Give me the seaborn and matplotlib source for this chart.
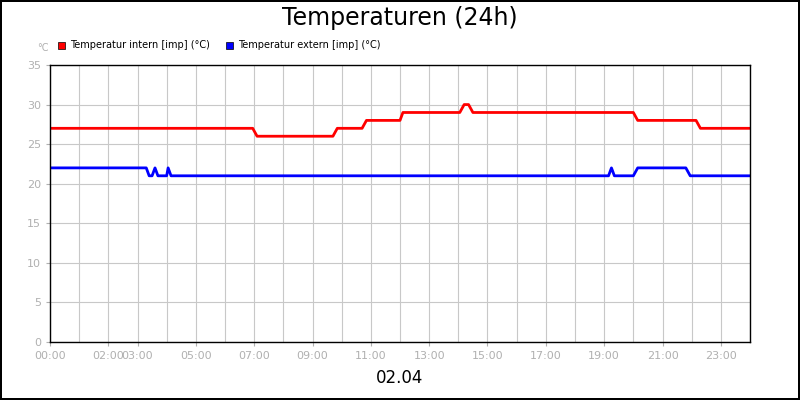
import matplotlib
matplotlib.use("Agg")
import matplotlib.pyplot as plt
import seaborn as sns
import pandas as pd

# hours and values (step-like with short transitions)
t_int = [0, 6.95, 7.1, 9.7, 9.85, 10.7, 10.85, 12.0, 12.1, 14.05, 14.2, 14.35, 14.5, 20.0, 20.15, 22.15, 22.3, 24]
v_int = [27, 27, 26, 26, 27, 27, 28, 28, 29, 29, 30, 30, 29, 29, 28, 28, 27, 27]
t_ext = [0, 3.3, 3.4, 3.5, 3.6, 3.7, 4.0, 4.05, 4.15, 19.15, 19.25, 19.35, 20.0, 20.15, 21.8, 21.95, 24]
v_ext = [22, 22, 21, 21, 22, 21, 21, 22, 21, 21, 22, 21, 21, 22, 22, 21, 21]
tick_pos = [0, 2, 3, 5, 7, 9, 11, 13, 15, 17, 19, 21, 23]
tick_lbl = ["00:00", "02:00", "03:00", "05:00", "07:00", "09:00", "11:00", "13:00", "15:00", "17:00", "19:00", "21:00", "23:00"]
lbl_int = "Temperatur intern [imp] (°C)"
lbl_ext = "Temperatur extern [imp] (°C)"

sns.set_style("white")
plt.rcParams['font.family'] = ['DejaVu Sans']
fig = plt.figure(figsize=(8, 4), dpi=100)
fig.patch.set_edgecolor("black"); fig.patch.set_linewidth(1.5)
ax = fig.add_axes([50/800, 58/400, 700/800, 277/400])
df1 = pd.DataFrame({"t": t_int, "v": v_int})
df2 = pd.DataFrame({"t": t_ext, "v": v_ext})
sns.lineplot(data=df1, x="t", y="v", color="#ff0000", lw=2, ax=ax)
sns.lineplot(data=df2, x="t", y="v", color="#0000ff", lw=2, ax=ax)
ax.set_xlim(0, 24); ax.set_ylim(0, 35)
ax.set_xticks(range(25), minor=True)
ax.set_xticks(tick_pos); ax.set_xticklabels(tick_lbl)
ax.set_yticks(range(0, 36, 5))
ax.grid(True, which="both", axis="x", color="#c8c8c8", lw=0.8)
ax.grid(True, axis="y", color="#c8c8c8", lw=0.8)
ax.tick_params(axis="both", which="both", labelsize=8, labelcolor="#b0b0b0", length=3, color="#b0b0b0", left=True, bottom=True)
ax.tick_params(axis="x", which="minor", length=0)
ax.set_xlabel(""); ax.set_ylabel("")
for s in ax.spines.values():
    s.set_color("black"); s.set_linewidth(1)
fig.text(400/800, 1-18/400, "Temperaturen (24h)", ha="center", va="center", fontsize=17, color="black")
fig.text(400/800, 1-378/400, "02.04", ha="center", va="center", fontsize=12, color="black")
fig.text(37/800, 1-48/400, "°C", ha="left", va="center", fontsize=7, color="#b0b0b0")
fig.patches.append(plt.Rectangle((58/800, 1-49/400), 7/800, 7/400, transform=fig.transFigure, fc="#ff0000", ec="black", lw=0.5))
fig.text(70/800, 1-45/400, lbl_int, ha="left", va="center", fontsize=7, color="black")
fig.patches.append(plt.Rectangle((226/800, 1-49/400), 7/800, 7/400, transform=fig.transFigure, fc="#0000ff", ec="black", lw=0.5))
fig.text(238/800, 1-45/400, lbl_ext, ha="left", va="center", fontsize=7, color="black")
fig.savefig("out.png", dpi=100, edgecolor=fig.get_edgecolor())
